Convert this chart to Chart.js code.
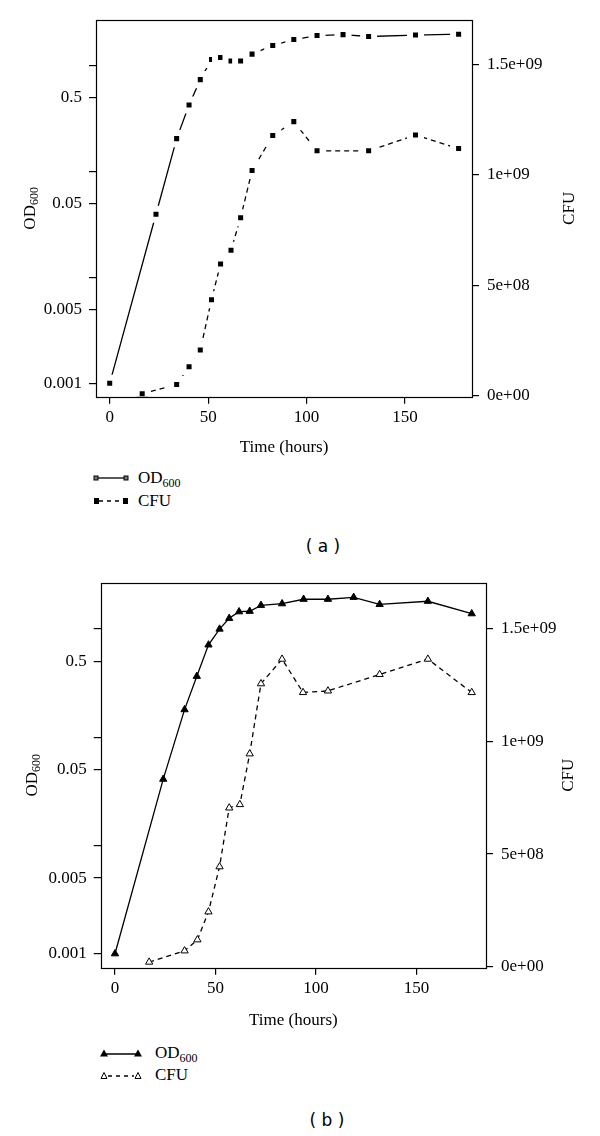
<!DOCTYPE html>
<html>
<head>
<meta charset="utf-8">
<script src="https://cdn.jsdelivr.net/npm/chart.js@4"></script>
<style>
  body { margin: 0; background: #fff; }
  #page { position: relative; width: 600px; height: 1136px; font-family: "Liberation Serif", serif; color: #000; }
  canvas { position: absolute; left: 0; }
  .lg { position: absolute; font-size: 17px; line-height: 20px; white-space: nowrap; }
  .lg .sub { font-size: 12px; position: relative; top: 4px; }
  .sym { position: absolute; }
  .cap { position: absolute; font-family: "DejaVu Sans", sans-serif; font-size: 17px; width: 60px; text-align: center; }
</style>
</head>
<body>
<div id="page">
  <canvas id="chartA" width="600" height="458" style="top:0"></canvas>
  <canvas id="chartB" width="600" height="471" style="top:560px"></canvas>

  <svg class="sym" style="left:93px;top:473px" width="36" height="10">
    <line x1="3" y1="5" x2="33" y2="5" stroke="#000" stroke-width="1.3"/>
    <rect x="1" y="3" width="4" height="4" fill="#777" stroke="#000" stroke-width="1"/>
    <rect x="31" y="3" width="4" height="4" fill="#777" stroke="#000" stroke-width="1"/>
  </svg>
  <div class="lg" style="left:138px;top:468px">OD<span class="sub">600</span></div>
  <svg class="sym" style="left:93px;top:496px" width="36" height="10">
    <line x1="6" y1="5" x2="30" y2="5" stroke="#000" stroke-width="1.3" stroke-dasharray="4,4"/>
    <rect x="1" y="2" width="5" height="6" fill="#000"/>
    <rect x="30" y="2" width="5" height="6" fill="#000"/>
  </svg>
  <div class="lg" style="left:138px;top:491px">CFU</div>
  <div class="cap" style="left:293px;top:536px">( a )</div>

  <svg class="sym" style="left:100px;top:1047px" width="42" height="11">
    <line x1="4" y1="7" x2="38" y2="7" stroke="#000" stroke-width="1.3"/>
    <polygon points="0,9.5 4,2.5 8,9.5" fill="#000"/>
    <polygon points="34,9.5 38,2.5 42,9.5" fill="#000"/>
  </svg>
  <div class="lg" style="left:155px;top:1043px">OD<span class="sub">600</span></div>
  <svg class="sym" style="left:100px;top:1069px" width="42" height="11">
    <line x1="8" y1="7" x2="34" y2="7" stroke="#000" stroke-width="1.3" stroke-dasharray="4,4"/>
    <polygon points="1,9.5 4,3.5 7,9.5" fill="#fff" stroke="#000" stroke-width="1"/>
    <polygon points="35,9.5 38,3.5 41,9.5" fill="#fff" stroke="#000" stroke-width="1"/>
  </svg>
  <div class="lg" style="left:155px;top:1065px">CFU</div>
  <div class="cap" style="left:297px;top:1110px">( b )</div>
</div>

<script>
// panel (a)
const timeOdA = [0, 23.5, 34, 40.3, 46, 51.7, 56.3, 61.6, 66.5, 72.3, 82.8, 93.5, 105.3, 118.5, 131.5, 155.3, 177.2];
const odA = [0.001, 0.0396, 0.205, 0.427, 0.74, 1.147, 1.198, 1.107, 1.107, 1.289, 1.555, 1.77, 1.93, 1.97, 1.89, 1.95, 1.99];
const timeCfuA = [16.5, 34, 40.3, 46, 51.7, 56.3, 61.6, 66.5, 72.3, 82.8, 93.5, 105.3, 131.5, 155.3, 177.2];
const cfuA = [0.008e9, 0.05e9, 0.131e9, 0.206e9, 0.434e9, 0.596e9, 0.658e9, 0.805e9, 1.019e9, 1.177e9, 1.24e9, 1.108e9, 1.108e9, 1.179e9, 1.118e9];

// panel (b)
const timeOdB = [0, 24, 34.6, 40.7, 46.5, 52, 56.8, 61.7, 67, 72.6, 83.1, 93.8, 105.9, 118.7, 131.6, 155.6, 177.4];
const odB = [0.001, 0.041, 0.18, 0.366, 0.714, 1.0, 1.256, 1.446, 1.46, 1.657, 1.715, 1.885, 1.885, 1.965, 1.69, 1.806, 1.386];
const timeCfuB = [17, 34.6, 41, 46.5, 52, 56.8, 62.1, 67, 72.6, 83.1, 93.5, 105.9, 131.6, 155.6, 177.4];
const cfuB = [0.021e9, 0.071e9, 0.12e9, 0.244e9, 0.444e9, 0.705e9, 0.72e9, 0.945e9, 1.256e9, 1.365e9, 1.217e9, 1.224e9, 1.297e9, 1.365e9, 1.217e9];

// ticks
const timeTicks = [0, 50, 100, 150];
const odTicks = [0.001, 0.005, 0.01, 0.05, 0.1, 0.5, 1];
const odTickLabels = ['0.001', '0.005', '', '0.05', '', '0.5', ''];
const cfuTicks = [0, 5e8, 1e9, 1.5e9];
const cfuTickLabels = ['0e+00', '5e+08', '1e+09', '1.5e+09'];

const serif = '"Liberation Serif", serif';
const toPoints = (xs, ys) => xs.map((x, i) => ({ x: x, y: ys[i] }));

// box round the plot and the two rotated axis titles
const framePlugin = {
    id: 'frame',
    afterDraw(chart, args, opts) {
        const { ctx, chartArea: a } = chart;
        const cy = (a.top + a.bottom) / 2;
        ctx.save();
        ctx.strokeStyle = '#000';
        ctx.lineWidth = 1.2;
        ctx.strokeRect(Math.round(a.left) + 0.5, Math.round(a.top) + 0.5,
            Math.round(a.right - a.left), Math.round(a.bottom - a.top));
        ctx.fillStyle = '#000';
        ctx.textBaseline = 'middle';
        ctx.textAlign = 'left';
        ctx.translate(opts.odX, cy);
        ctx.rotate(-Math.PI / 2);
        ctx.font = '17px ' + serif;
        const w1 = ctx.measureText('OD').width;
        ctx.font = '12px ' + serif;
        const w2 = ctx.measureText('600').width;
        const x0 = -(w1 + w2) / 2;
        ctx.font = '17px ' + serif;
        ctx.fillText('OD', x0, 0);
        ctx.font = '12px ' + serif;
        ctx.fillText('600', x0 + w1, 4);
        ctx.restore();

        ctx.save();
        ctx.fillStyle = '#000';
        ctx.textBaseline = 'middle';
        ctx.textAlign = 'center';
        ctx.font = '17px ' + serif;
        ctx.translate(opts.cfuX, cy);
        ctx.rotate(-Math.PI / 2);
        ctx.fillText('CFU', 0, 0);
        ctx.restore();
    }
};

const tickGrid = { display: true, drawOnChartArea: false, drawTicks: true, tickLength: 7, color: '#000', lineWidth: 1.2 };

const makePanel = (id, p) => {
    new Chart(document.getElementById(id), {
        type: 'line',
        data: {
            datasets: [{
                label: 'OD600',
                data: toPoints(p.timeOd, p.od),
                yAxisID: 'yOD',
                borderColor: '#000',
                borderWidth: 1.3,
                pointStyle: p.odStyle,
                pointRadius: p.odRadius,
                pointBackgroundColor: '#000',
                pointBorderColor: p.odBorder,
                pointBorderWidth: p.odBorderWidth,
                tension: 0
            }, {
                label: 'CFU',
                data: toPoints(p.timeCfu, p.cfu),
                yAxisID: 'yCFU',
                borderColor: '#000',
                borderWidth: 1.3,
                borderDash: [5, 4],
                pointStyle: p.cfuStyle,
                pointRadius: p.cfuRadius,
                pointBackgroundColor: p.cfuFill,
                pointBorderColor: p.cfuBorder,
                pointBorderWidth: p.cfuBorderWidth,
                tension: 0
            }]
        },
        options: {
            responsive: false,
            animation: false,
            layout: { padding: { top: p.top, left: 0, right: 0, bottom: 0 } },
            plugins: {
                legend: { display: false },
                tooltip: { enabled: false },
                frame: { odX: p.odX, cfuX: p.cfuX }
            },
            scales: {
                x: {
                    type: 'linear',
                    min: p.xMin,
                    max: p.xMax,
                    afterFit: (s) => { s.height = p.xHeight; },
                    afterBuildTicks: (s) => { s.ticks = timeTicks.map(v => ({ value: v })); },
                    grid: tickGrid,
                    border: { display: false },
                    ticks: { color: '#000', font: { family: serif, size: 17 }, padding: 4, maxRotation: 0 },
                    title: { display: true, text: 'Time (hours)', color: '#000', font: { family: serif, size: 17 }, padding: 0 }
                },
                yOD: {
                    type: 'logarithmic',
                    position: 'left',
                    min: p.odMin,
                    max: p.odMax,
                    afterFit: (s) => { s.width = p.leftW; },
                    afterBuildTicks: (s) => { s.ticks = odTicks.map(v => ({ value: v })); },
                    grid: tickGrid,
                    border: { display: false },
                    ticks: {
                        color: '#000',
                        font: { family: serif, size: 17 },
                        padding: 7,
                        autoSkip: false,
                        callback: (v) => odTickLabels[odTicks.indexOf(v)] ?? ''
                    }
                },
                yCFU: {
                    type: 'linear',
                    position: 'right',
                    min: p.cfuMin,
                    max: p.cfuMax,
                    afterFit: (s) => { s.width = p.rightW; },
                    afterBuildTicks: (s) => { s.ticks = cfuTicks.map(v => ({ value: v })); },
                    grid: tickGrid,
                    border: { display: false },
                    ticks: {
                        color: '#000',
                        font: { family: serif, size: 17 },
                        padding: 8,
                        callback: (v) => cfuTickLabels[cfuTicks.indexOf(v)] ?? ''
                    }
                }
            }
        },
        plugins: [framePlugin]
    });
};

makePanel('chartA', {
    timeOd: timeOdA, od: odA, timeCfu: timeCfuA, cfu: cfuA,
    odStyle: 'rect', odRadius: 7.8, odBorder: '#fff', odBorderWidth: 6,
    cfuStyle: 'rect', cfuRadius: 7.8, cfuFill: '#000', cfuBorder: '#fff', cfuBorderWidth: 6,
    top: 20, leftW: 96, rightW: 128, xHeight: 61.3,
    xMin: -6.96, xMax: 184.0, odMin: 0.000748, odMax: 2.707, cfuMin: -0.005e9, cfuMax: 1.70e9,
    odX: 31, cfuX: 570
});

makePanel('chartB', {
    timeOd: timeOdB, od: odB, timeCfu: timeCfuB, cfu: cfuB,
    odStyle: 'triangle', odRadius: 4.2, odBorder: '#000', odBorderWidth: 1,
    cfuStyle: 'triangle', cfuRadius: 4.2, cfuFill: '#fff', cfuBorder: '#000', cfuBorderWidth: 1,
    top: 22.7, leftW: 100.7, rightW: 114, xHeight: 63.3,
    xMin: -7.1, xMax: 184.5, odMin: 0.000743, odMax: 2.68, cfuMin: -0.004e9, cfuMax: 1.704e9,
    odX: 33, cfuX: 569
});
</script>
</body>
</html>
